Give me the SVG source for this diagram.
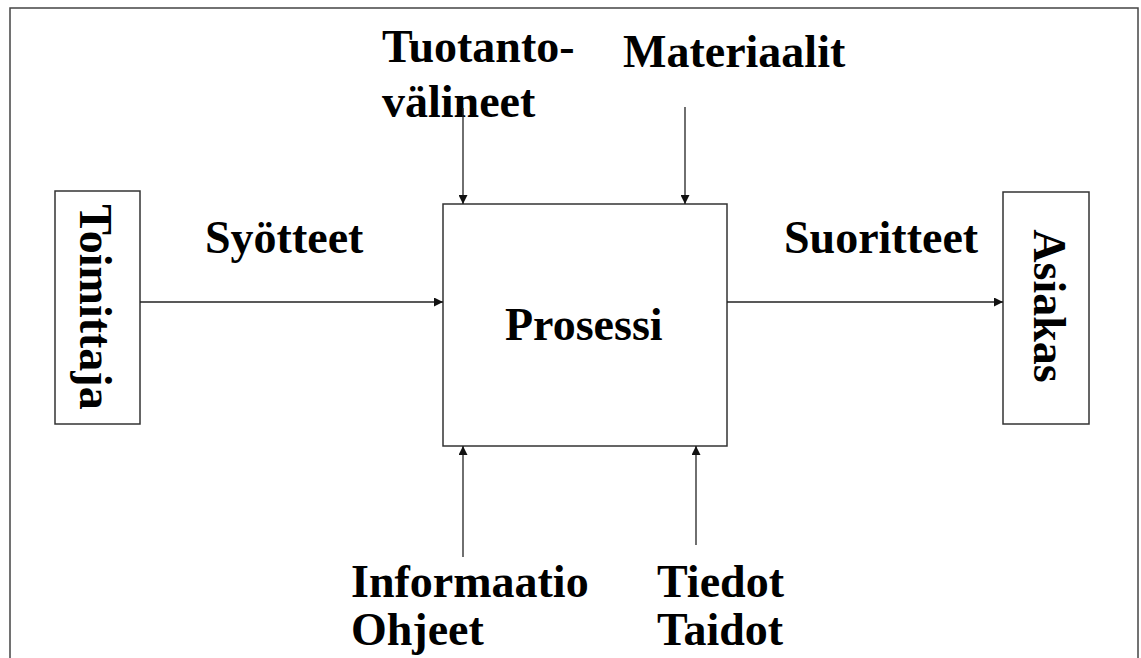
<svg xmlns="http://www.w3.org/2000/svg" width="1141" height="658" viewBox="0 0 1141 658">
<style>
.t{font-family:"Liberation Serif","Times New Roman",serif;font-weight:bold;font-size:46px;fill:#000}
.box{fill:#fff;stroke:#333;stroke-width:1.5}
.c{stroke:#222;stroke-width:1.3;fill:none;marker-end:url(#ah)}
</style>
<defs>
<marker id="ah" viewBox="0 0 10 10" refX="10" refY="5" markerWidth="9" markerHeight="9" markerUnits="userSpaceOnUse" orient="auto">
<path d="M0,0 L10,5 L0,10 Z" fill="#111"/>
</marker>
</defs>
<rect x="0" y="0" width="1141" height="658" fill="#fff"/>
<rect id="frame" x="10" y="8" width="1128" height="680" fill="none" stroke="#444" stroke-width="1.5"/>
<g id="toimittaja">
<rect class="box" x="55" y="191" width="85" height="233"/>
<text class="t" text-anchor="middle" transform="translate(80,307) rotate(90)">Toimittaja</text>
</g>
<g id="asiakas">
<rect class="box" x="1003" y="192" width="86" height="232"/>
<text class="t" text-anchor="middle" transform="translate(1034,306) rotate(90)">Asiakas</text>
</g>
<g id="prosessi">
<rect class="box" x="443" y="204" width="284" height="242"/>
<text class="t" x="505" y="340">Prosessi</text>
</g>
<g id="labels">
<text class="t" x="382" y="62">Tuotanto-</text>
<text class="t" x="382" y="117">välineet</text>
<text class="t" x="623" y="67">Materiaalit</text>
<text class="t" x="205" y="253">Syötteet</text>
<text class="t" x="784" y="253">Suoritteet</text>
<text class="t" x="351" y="597">Informaatio</text>
<text class="t" x="351" y="645">Ohjeet</text>
<text class="t" x="657" y="597">Tiedot</text>
<text class="t" x="657" y="645">Taidot</text>
</g>
<g id="connectors">
<line class="c" x1="140" y1="302" x2="443" y2="302"/>
<line class="c" x1="727" y1="302" x2="1003" y2="302"/>
<line class="c" x1="463" y1="108" x2="463" y2="204"/>
<line class="c" x1="685" y1="107" x2="685" y2="204"/>
<line class="c" x1="463" y1="557" x2="463" y2="446"/>
<line class="c" x1="696" y1="545" x2="696" y2="446"/>
</g>
</svg>
